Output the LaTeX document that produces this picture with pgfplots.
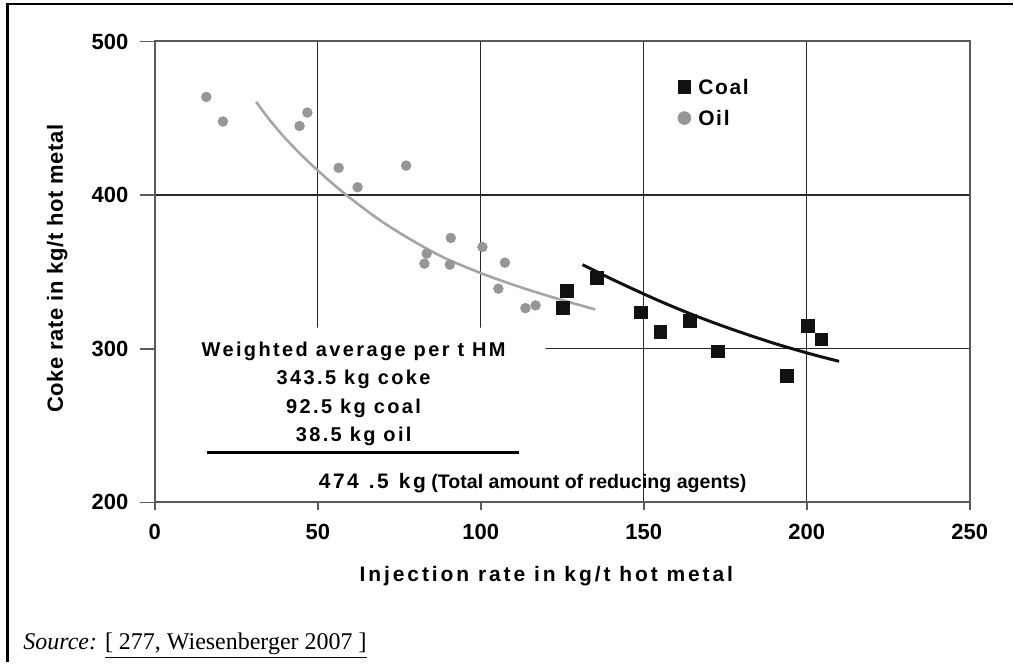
\documentclass[border=0pt]{standalone}
\usepackage{pgfplots}
\pgfplotsset{compat=1.18}
\usepackage{fontspec}
\setmainfont{Liberation Sans}
\newfontfamily\xlabfont[LetterSpace=14]{Liberation Sans}
\newfontfamily\ylabfont[LetterSpace=3]{Liberation Sans}
\newfontfamily\legfont[LetterSpace=8]{Liberation Sans}
\newfontfamily\blockfont[LetterSpace=12]{Liberation Sans}
\newfontfamily\srcfont{Liberation Serif}
\definecolor{oilgray}{RGB}{150,150,150}
\definecolor{oilline}{RGB}{165,165,165}
\definecolor{coalblack}{RGB}{17,17,17}
\definecolor{gridc}{RGB}{40,40,40}
\definecolor{axisc}{RGB}{90,90,90}
\pgfplotsset{
  layers/mylayers/.define layer set={axis background,axis grid,pre main,axis ticks,axis lines,axis tick labels,main,axis descriptions,axis foreground}{
    grid style={/pgfplots/on layer=axis grid},
    tick style={/pgfplots/on layer=axis ticks},
    axis line style={/pgfplots/on layer=axis lines},
    label style={/pgfplots/on layer=axis descriptions},
    legend style={/pgfplots/on layer=axis descriptions},
    title style={/pgfplots/on layer=axis descriptions},
    ticklabel style={/pgfplots/on layer=axis tick labels},
    axis background@ style={/pgfplots/on layer=axis background},
    3d box foreground style={/pgfplots/on layer=axis foreground},
  },
}
\begin{document}
\begin{tikzpicture}
\path (0,0) rectangle (507pt,331.5pt);
\begin{axis}[
  set layers=mylayers,
  at={(77.5pt,80pt)}, anchor=south west,
  scale only axis, width=408pt, height=230.75pt,
  xmin=0, xmax=250, ymin=200, ymax=500,
  xtick={0,50,100,150,200,250}, ytick={200,300,400,500},
  tick pos=left, tick align=outside,
  xtick style={/pgfplots/major tick length=4pt},
  ytick style={/pgfplots/major tick length=7.5pt},
  grid=major, major grid style={gridc, line width=0.7pt},
  axis line style={axisc, line width=1pt},
  tick style={axisc, line width=0.8pt},
  /pgf/number format/assume math mode=true,
  ticklabel style={font=\fontsize{11}{13}\selectfont\bfseries},
  xticklabel style={yshift=-3pt},
  yticklabel style={xshift=-5.5pt},
  xlabel={Injection rate in kg/t hot metal},
  ylabel={Coke rate in kg/t hot metal},
  xlabel style={font=\fontsize{10.5}{12}\xlabfont\bfseries, at={(axis description cs:0.4804,-0.1727)}, anchor=base},
  ylabel style={font=\fontsize{11}{13}\ylabfont\bfseries, at={(axis description cs:-0.1127,0.507)}, anchor=base},
  legend style={at={(axis description cs:0.6415,0.9177)}, anchor=north west,
    draw=none, fill=none, inner sep=0pt, row sep=8pt,
    font=\fontsize{10.5}{12}\legfont\bfseries,
    nodes={inner sep=0pt, text height=7.5pt, text depth=0pt, yshift=3.6pt},
    /tikz/every odd column/.append style={column sep=3.75pt}},
  legend cell align=left,
  legend image code/.code={\draw[#1] plot coordinates {(0pt,3.7pt)};},
]
\addlegendimage{only marks, mark=square*, mark size=3.2pt, coalblack}
\addlegendentry{Coal}
\addlegendimage{only marks, mark=*, mark size=3.2pt, oilgray}
\addlegendentry{Oil}

% white panel behind the annotation (covers grid only)
\addplot[fill=white, draw=none, forget plot, on layer=pre main] coordinates {
(0,200) (119.8,200) (119.8,313.8) (0,313.8) (0,200)
};

% Oil data
\addplot[only marks, mark=*, mark size=2.4pt, oilgray, forget plot] coordinates {
(15.8,463.9) (20.9,447.9) (44.4,445.0) (46.8,453.7) (56.4,417.7) (62.2,405.1)
(77.1,419.2) (83.4,361.9) (82.7,355.4) (90.8,372.1) (90.5,354.7) (100.5,366.2)
(107.4,356.0) (105.4,339.1) (113.7,326.4) (116.8,328.2)
};
% Oil trend
\addplot[oilline, line width=1.3pt, smooth, forget plot] coordinates {
(31.1,460.7) (35,449.5) (40,437) (45,426) (50,416) (57.6,402) (67.8,385.5)
(75,375.5) (83.1,365.5) (90,358) (99.9,349.3) (107,343.8) (113.7,339)
(120,334.8) (128,329.8) (135.1,325.6)
};
% Coal trend
\addplot[coalblack, line width=1.5pt, smooth, forget plot] coordinates {
(131.2,354.7) (140,345.5) (148.8,336.8) (156,330) (164.2,322.8) (172,316.5)
(180,310.5) (190,303.5) (198,298.5) (204,295) (209.9,291.8)
};
% Coal data
\addplot[only marks, mark=square*, mark size=3.2pt, coalblack, forget plot] coordinates {
(126.5,337.5) (125.3,326.4) (135.7,346.0) (149.2,323.6) (155.1,310.8)
(164.2,318.0) (172.7,298.2) (193.8,282.4) (200.4,314.7) (204.5,306.1)
};

\node[font=\fontsize{10}{12}\blockfont\bfseries, anchor=base, inner sep=0pt] at (axis cs:61,294.9) {Weighted average per t HM};
\node[font=\fontsize{10}{12}\blockfont\bfseries, anchor=base, inner sep=0pt] at (axis cs:61,276.7) {343.5 kg coke};
\node[font=\fontsize{10}{12}\blockfont\bfseries, anchor=base, inner sep=0pt] at (axis cs:61,257.9) {92.5 kg coal};
\node[font=\fontsize{10}{12}\blockfont\bfseries, anchor=base, inner sep=0pt] at (axis cs:61,239.7) {38.5 kg oil};
\draw[black, line width=1.3pt] (axis cs:15.9,232.5) -- (axis cs:111.8,232.5);
\node[anchor=base west, inner sep=0pt] at (axis cs:50.2,209.1) {{\fontsize{10.5}{12}\blockfont\bfseries 474\hspace{5pt}.5\hspace{5pt}kg} {\fontsize{9.8}{12}\selectfont\bfseries (Total amount of reducing agents)}};
\end{axis}
\draw[line width=1.3pt] (3.9pt,0pt) -- (3.9pt,329.4pt) -- (507pt,329.4pt);
\node[anchor=base west, inner sep=0pt, font=\fontsize{12}{14}\srcfont] at (11.5pt,6.5pt) {\textit{Source:} \underline{[ 277, Wiesenberger 2007 ]}};
\end{tikzpicture}
\end{document}
